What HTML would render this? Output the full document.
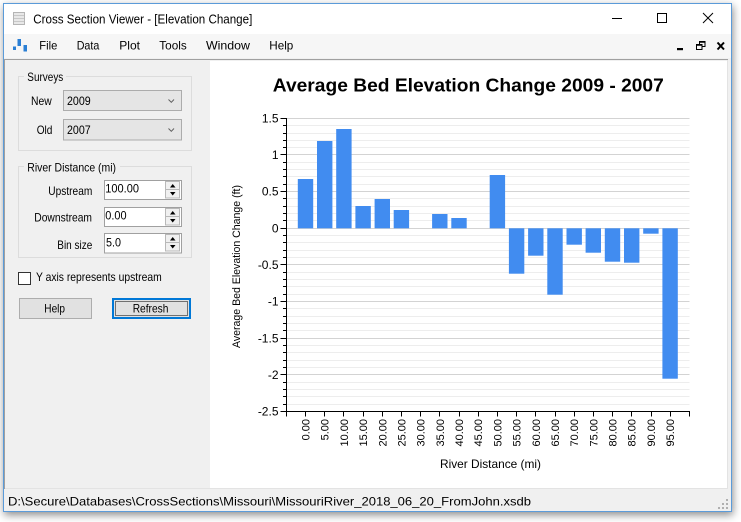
<!DOCTYPE html>
<html><head><meta charset="utf-8">
<style>
html,body{margin:0;padding:0;background:#fff;width:741px;height:522px;overflow:hidden;}
#win{position:absolute;left:3px;top:3px;width:727px;height:507px;border:1px solid #5b9bd9;background:#f0f0f0;box-shadow:1px 3px 8px rgba(0,0,0,0.45);}
svg{position:absolute;left:0;top:0;}
text{font-family:"Liberation Sans",Arial,sans-serif;fill:#000;}
</style></head>
<body>
<div id="win"></div>
<svg width="741" height="522" viewBox="0 0 741 522" xmlns="http://www.w3.org/2000/svg">
<!-- title bar -->
<rect x="4" y="4" width="727" height="30" fill="#ffffff"/>
<rect x="13.5" y="12.5" width="11" height="12" fill="#e8e8e8" stroke="#b5b5b5"/>
<line x1="14" y1="15.5" x2="24" y2="15.5" stroke="#c8c8c8"/>
<line x1="14" y1="18.5" x2="24" y2="18.5" stroke="#c8c8c8"/>
<line x1="14" y1="21.5" x2="24" y2="21.5" stroke="#c8c8c8"/>
<text x="33.3" y="23.5" font-size="12.5" textLength="219" lengthAdjust="spacingAndGlyphs">Cross Section Viewer - [Elevation Change]</text>
<line x1="612" y1="18.5" x2="622" y2="18.5" stroke="#000"/>
<rect x="657.5" y="13.5" width="9" height="9" fill="none" stroke="#000"/>
<line x1="703" y1="13" x2="713" y2="23" stroke="#000"/>
<line x1="713" y1="13" x2="703" y2="23" stroke="#000"/>
<!-- menu bar -->
<rect x="4" y="34" width="727" height="24" fill="#f6f6f6"/>
<rect x="13" y="46.5" width="3" height="3.5" fill="#2b7fd4"/>
<rect x="17.5" y="39" width="3.5" height="7" fill="#2b7fd4"/>
<rect x="23.5" y="45" width="3.5" height="6.5" fill="#2b7fd4"/>
<text x="39.3" y="49.5" font-size="12" textLength="18" lengthAdjust="spacingAndGlyphs">File</text>
<text x="76.7" y="49.5" font-size="12" textLength="22.6" lengthAdjust="spacingAndGlyphs">Data</text>
<text x="119.3" y="49.5" font-size="12" textLength="20.7" lengthAdjust="spacingAndGlyphs">Plot</text>
<text x="159.3" y="49.5" font-size="12" textLength="27.4" lengthAdjust="spacingAndGlyphs">Tools</text>
<text x="206" y="49.5" font-size="12" textLength="44" lengthAdjust="spacingAndGlyphs">Window</text>
<text x="269.3" y="49.5" font-size="12" textLength="24" lengthAdjust="spacingAndGlyphs">Help</text>
<rect x="677" y="48" width="6" height="2.2" fill="#000"/>
<rect x="699.5" y="41.5" width="5.5" height="5" fill="none" stroke="#000"/>
<line x1="699" y1="42" x2="705.5" y2="42" stroke="#000" stroke-width="1.5"/>
<rect x="696.5" y="44.5" width="5.5" height="5" fill="#f6f6f6" stroke="#000"/>
<line x1="696" y1="45" x2="702.5" y2="45" stroke="#000" stroke-width="1.5"/>
<line x1="717.5" y1="42.5" x2="724" y2="49.5" stroke="#000" stroke-width="2"/>
<line x1="724" y1="42.5" x2="717.5" y2="49.5" stroke="#000" stroke-width="2"/>
<!-- MDI client -->
<rect x="6" y="61" width="204" height="428" fill="#f0f0f0"/>
<rect x="210" y="61" width="517" height="428" fill="#ffffff"/>
<line x1="5" y1="59.5" x2="728" y2="59.5" stroke="#a0a0a0"/>
<line x1="4.5" y1="59" x2="4.5" y2="489" stroke="#a0a0a0"/>
<line x1="727.5" y1="60" x2="727.5" y2="489" stroke="#e3e3e3"/>
<line x1="5" y1="488.5" x2="728" y2="488.5" stroke="#e3e3e3"/>
<!-- status bar -->
<rect x="4" y="489.5" width="727" height="21" fill="#f0f0f0"/>
<text x="8" y="505.5" font-size="12" textLength="523" lengthAdjust="spacingAndGlyphs">D:\Secure\Databases\CrossSections\Missouri\MissouriRiver_2018_06_20_FromJohn.xsdb</text>
<g fill="#b0b0b0">
<rect x="726" y="499" width="2" height="2"/>
<rect x="722" y="503" width="2" height="2"/><rect x="726" y="503" width="2" height="2"/>
<rect x="718" y="507" width="2" height="2"/><rect x="722" y="507" width="2" height="2"/><rect x="726" y="507" width="2" height="2"/>
</g>
<!-- Left panel -->
<rect x="18.5" y="76.5" width="173" height="74" fill="none" stroke="#dcdcdc"/>
<rect x="24" y="70" width="42" height="12" fill="#f0f0f0"/>
<text x="27.3" y="81" font-size="12" textLength="36" lengthAdjust="spacingAndGlyphs">Surveys</text>
<text x="31" y="105" font-size="12" textLength="20.7" lengthAdjust="spacingAndGlyphs">New</text>
<rect x="63.5" y="90.5" width="118" height="20" fill="#e5e5e5" stroke="#acacac"/>
<text x="67" y="105" font-size="12" textLength="23.7" lengthAdjust="spacingAndGlyphs">2009</text>
<polyline points="168.5,99.5 171.3,102.3 174,99.5" fill="none" stroke="#606060"/>
<text x="36.7" y="134" font-size="12" textLength="15.7" lengthAdjust="spacingAndGlyphs">Old</text>
<rect x="63.5" y="119.5" width="118" height="20.5" fill="#e5e5e5" stroke="#acacac"/>
<text x="67" y="134" font-size="12" textLength="23.7" lengthAdjust="spacingAndGlyphs">2007</text>
<polyline points="168.5,128.5 171.3,131.3 174,128.5" fill="none" stroke="#606060"/>

<rect x="18.5" y="166.5" width="173" height="91" fill="none" stroke="#dcdcdc"/>
<rect x="24" y="160" width="96" height="12" fill="#f0f0f0"/>
<text x="27.3" y="171.5" font-size="12" textLength="88.7" lengthAdjust="spacingAndGlyphs">River Distance (mi)</text>

<text x="48.3" y="195" font-size="12" textLength="44" lengthAdjust="spacingAndGlyphs">Upstream</text>
<rect x="104.5" y="180.5" width="77" height="19" fill="#fff" stroke="#a0a0a0"/>
<text x="105.3" y="192.7" font-size="12" textLength="33.7" lengthAdjust="spacingAndGlyphs">100.00</text>
<rect x="165.5" y="181.5" width="14" height="8" fill="#f0f0f0" stroke="#b8b8b8"/>
<rect x="165.5" y="189.5" width="14" height="8.5" fill="#f0f0f0" stroke="#b8b8b8"/>
<polygon points="170,187.5 175.5,187.5 172.7,184" fill="#000"/>
<polygon points="170,192 175.5,192 172.7,195.5" fill="#000"/>

<text x="34.3" y="221.7" font-size="12" textLength="57.7" lengthAdjust="spacingAndGlyphs">Downstream</text>
<rect x="104.5" y="207.5" width="77" height="19" fill="#fff" stroke="#a0a0a0"/>
<text x="105.3" y="219.3" font-size="12" textLength="21.3" lengthAdjust="spacingAndGlyphs">0.00</text>
<rect x="165.5" y="208.5" width="14" height="8" fill="#f0f0f0" stroke="#b8b8b8"/>
<rect x="165.5" y="216.5" width="14" height="8.5" fill="#f0f0f0" stroke="#b8b8b8"/>
<polygon points="170,214.5 175.5,214.5 172.7,211" fill="#000"/>
<polygon points="170,219 175.5,219 172.7,222.5" fill="#000"/>

<text x="57.3" y="249" font-size="12" textLength="35" lengthAdjust="spacingAndGlyphs">Bin size</text>
<rect x="104.5" y="233.5" width="77" height="19.5" fill="#fff" stroke="#a0a0a0"/>
<text x="106" y="246.7" font-size="12" textLength="15" lengthAdjust="spacingAndGlyphs">5.0</text>
<rect x="165.5" y="234.5" width="14" height="8" fill="#f0f0f0" stroke="#b8b8b8"/>
<rect x="165.5" y="242.5" width="14" height="8.5" fill="#f0f0f0" stroke="#b8b8b8"/>
<polygon points="170,240.5 175.5,240.5 172.7,237" fill="#000"/>
<polygon points="170,245 175.5,245 172.7,248.5" fill="#000"/>

<rect x="18.5" y="272.5" width="12" height="12" fill="#fff" stroke="#333"/>
<text x="36" y="281" font-size="12" textLength="125.7" lengthAdjust="spacingAndGlyphs">Y axis represents upstream</text>

<rect x="19.5" y="298.5" width="72" height="20" fill="#e1e1e1" stroke="#adadad"/>
<text x="44.3" y="312.7" font-size="12" textLength="20.7" lengthAdjust="spacingAndGlyphs">Help</text>
<rect x="113" y="299" width="77" height="19" fill="#e1e1e1" stroke="#0078d7" stroke-width="2"/>
<rect x="115.5" y="301.5" width="72" height="14" fill="none" stroke="#000" stroke-dasharray="1,1"/>
<text x="132.7" y="312.7" font-size="12" textLength="35.7" lengthAdjust="spacingAndGlyphs">Refresh</text>

<!-- Chart -->
<text x="468.3" y="91.7" font-size="18" font-weight="bold" text-anchor="middle" textLength="391" lengthAdjust="spacingAndGlyphs">Average Bed Elevation Change 2009 - 2007</text>

<!-- minor gridlines -->
<g stroke="#ededed" stroke-width="1">
<line x1="287" x2="689.5" y1="125.5" y2="125.5"/><line x1="287" x2="689.5" y1="133.5" y2="133.5"/><line x1="287" x2="689.5" y1="140.5" y2="140.5"/><line x1="287" x2="689.5" y1="147.5" y2="147.5"/>
<line x1="287" x2="689.5" y1="162.5" y2="162.5"/><line x1="287" x2="689.5" y1="169.5" y2="169.5"/><line x1="287" x2="689.5" y1="176.5" y2="176.5"/><line x1="287" x2="689.5" y1="184.5" y2="184.5"/>
<line x1="287" x2="689.5" y1="198.5" y2="198.5"/><line x1="287" x2="689.5" y1="206.5" y2="206.5"/><line x1="287" x2="689.5" y1="213.5" y2="213.5"/><line x1="287" x2="689.5" y1="220.5" y2="220.5"/>
<line x1="287" x2="689.5" y1="235.5" y2="235.5"/><line x1="287" x2="689.5" y1="242.5" y2="242.5"/><line x1="287" x2="689.5" y1="250.5" y2="250.5"/><line x1="287" x2="689.5" y1="257.5" y2="257.5"/>
<line x1="287" x2="689.5" y1="272.5" y2="272.5"/><line x1="287" x2="689.5" y1="279.5" y2="279.5"/><line x1="287" x2="689.5" y1="286.5" y2="286.5"/><line x1="287" x2="689.5" y1="294.5" y2="294.5"/>
<line x1="287" x2="689.5" y1="308.5" y2="308.5"/><line x1="287" x2="689.5" y1="316.5" y2="316.5"/><line x1="287" x2="689.5" y1="323.5" y2="323.5"/><line x1="287" x2="689.5" y1="330.5" y2="330.5"/>
<line x1="287" x2="689.5" y1="345.5" y2="345.5"/><line x1="287" x2="689.5" y1="352.5" y2="352.5"/><line x1="287" x2="689.5" y1="360.5" y2="360.5"/><line x1="287" x2="689.5" y1="367.5" y2="367.5"/>
<line x1="287" x2="689.5" y1="382.5" y2="382.5"/><line x1="287" x2="689.5" y1="389.5" y2="389.5"/><line x1="287" x2="689.5" y1="396.5" y2="396.5"/><line x1="287" x2="689.5" y1="404.5" y2="404.5"/>
</g>
<!-- major gridlines -->
<g stroke="#d3d3d3" stroke-width="1">
<line x1="287" x2="689.5" y1="118.5" y2="118.5"/>
<line x1="287" x2="689.5" y1="154.5" y2="154.5"/>
<line x1="287" x2="689.5" y1="191.5" y2="191.5"/>
<line x1="287" x2="689.5" y1="228.5" y2="228.5"/>
<line x1="287" x2="689.5" y1="264.5" y2="264.5"/>
<line x1="287" x2="689.5" y1="301.5" y2="301.5"/>
<line x1="287" x2="689.5" y1="338.5" y2="338.5"/>
<line x1="287" x2="689.5" y1="374.5" y2="374.5"/>
</g>

<!-- bars -->
<g fill="#418CF0">
<rect x="297.8" y="179" width="15.4" height="49.3"/>
<rect x="317" y="141" width="15.4" height="87.3"/>
<rect x="336.2" y="129" width="15.4" height="99.3"/>
<rect x="355.4" y="206" width="15.4" height="22.3"/>
<rect x="374.6" y="199" width="15.4" height="29.3"/>
<rect x="393.7" y="210" width="15.4" height="18.3"/>
<rect x="432.1" y="214" width="15.4" height="14.3"/>
<rect x="451.3" y="218" width="15.4" height="10.3"/>
<rect x="489.7" y="175" width="15.4" height="53.3"/>
<rect x="508.9" y="228.3" width="15.4" height="45.4"/>
<rect x="528.1" y="228.3" width="15.4" height="27.4"/>
<rect x="547.3" y="228.3" width="15.4" height="66.4"/>
<rect x="566.5" y="228.3" width="15.4" height="16.4"/>
<rect x="585.6" y="228.3" width="15.4" height="24.4"/>
<rect x="604.8" y="228.3" width="15.4" height="33.4"/>
<rect x="624" y="228.3" width="15.4" height="34.4"/>
<rect x="643.2" y="228.3" width="15.4" height="5.4"/>
<rect x="662.4" y="228.3" width="15.4" height="150.4"/>
</g>

<!-- axes -->
<line x1="286.5" y1="118" x2="286.5" y2="412" stroke="#000"/>
<line x1="286" y1="411.5" x2="690" y2="411.5" stroke="#000"/>
<!-- y ticks -->
<g stroke="#000">
<line x1="280.5" x2="286.5" y1="118.5" y2="118.5"/><line x1="280.5" x2="286.5" y1="154.5" y2="154.5"/><line x1="280.5" x2="286.5" y1="191.5" y2="191.5"/><line x1="280.5" x2="286.5" y1="228.5" y2="228.5"/><line x1="280.5" x2="286.5" y1="264.5" y2="264.5"/><line x1="280.5" x2="286.5" y1="301.5" y2="301.5"/><line x1="280.5" x2="286.5" y1="338.5" y2="338.5"/><line x1="280.5" x2="286.5" y1="374.5" y2="374.5"/><line x1="280.5" x2="286.5" y1="411.5" y2="411.5"/>
<line x1="283" x2="286.5" y1="125.5" y2="125.5"/><line x1="283" x2="286.5" y1="133.5" y2="133.5"/><line x1="283" x2="286.5" y1="140.5" y2="140.5"/><line x1="283" x2="286.5" y1="147.5" y2="147.5"/>
<line x1="283" x2="286.5" y1="162.5" y2="162.5"/><line x1="283" x2="286.5" y1="169.5" y2="169.5"/><line x1="283" x2="286.5" y1="176.5" y2="176.5"/><line x1="283" x2="286.5" y1="184.5" y2="184.5"/>
<line x1="283" x2="286.5" y1="198.5" y2="198.5"/><line x1="283" x2="286.5" y1="206.5" y2="206.5"/><line x1="283" x2="286.5" y1="213.5" y2="213.5"/><line x1="283" x2="286.5" y1="220.5" y2="220.5"/>
<line x1="283" x2="286.5" y1="235.5" y2="235.5"/><line x1="283" x2="286.5" y1="242.5" y2="242.5"/><line x1="283" x2="286.5" y1="250.5" y2="250.5"/><line x1="283" x2="286.5" y1="257.5" y2="257.5"/>
<line x1="283" x2="286.5" y1="272.5" y2="272.5"/><line x1="283" x2="286.5" y1="279.5" y2="279.5"/><line x1="283" x2="286.5" y1="286.5" y2="286.5"/><line x1="283" x2="286.5" y1="294.5" y2="294.5"/>
<line x1="283" x2="286.5" y1="308.5" y2="308.5"/><line x1="283" x2="286.5" y1="316.5" y2="316.5"/><line x1="283" x2="286.5" y1="323.5" y2="323.5"/><line x1="283" x2="286.5" y1="330.5" y2="330.5"/>
<line x1="283" x2="286.5" y1="345.5" y2="345.5"/><line x1="283" x2="286.5" y1="352.5" y2="352.5"/><line x1="283" x2="286.5" y1="360.5" y2="360.5"/><line x1="283" x2="286.5" y1="367.5" y2="367.5"/>
<line x1="283" x2="286.5" y1="382.5" y2="382.5"/><line x1="283" x2="286.5" y1="389.5" y2="389.5"/><line x1="283" x2="286.5" y1="396.5" y2="396.5"/><line x1="283" x2="286.5" y1="404.5" y2="404.5"/>
</g>
<!-- x ticks -->
<g stroke="#000">
<line x1="286.5" x2="286.5" y1="411" y2="416.5"/><line x1="305.5" x2="305.5" y1="411" y2="416.5"/><line x1="324.5" x2="324.5" y1="411" y2="416.5"/><line x1="343.5" x2="343.5" y1="411" y2="416.5"/><line x1="363.5" x2="363.5" y1="411" y2="416.5"/><line x1="382.5" x2="382.5" y1="411" y2="416.5"/><line x1="401.5" x2="401.5" y1="411" y2="416.5"/><line x1="420.5" x2="420.5" y1="411" y2="416.5"/><line x1="439.5" x2="439.5" y1="411" y2="416.5"/><line x1="459.5" x2="459.5" y1="411" y2="416.5"/><line x1="478.5" x2="478.5" y1="411" y2="416.5"/><line x1="497.5" x2="497.5" y1="411" y2="416.5"/><line x1="516.5" x2="516.5" y1="411" y2="416.5"/><line x1="535.5" x2="535.5" y1="411" y2="416.5"/><line x1="555.5" x2="555.5" y1="411" y2="416.5"/><line x1="574.5" x2="574.5" y1="411" y2="416.5"/><line x1="593.5" x2="593.5" y1="411" y2="416.5"/><line x1="612.5" x2="612.5" y1="411" y2="416.5"/><line x1="631.5" x2="631.5" y1="411" y2="416.5"/><line x1="651.5" x2="651.5" y1="411" y2="416.5"/><line x1="670.5" x2="670.5" y1="411" y2="416.5"/><line x1="689.5" x2="689.5" y1="411" y2="416.5"/>
</g>
<!-- y labels -->
<g font-size="12" text-anchor="end">
<text x="278.5" y="122.6">1.5</text>
<text x="278.5" y="158.8">1</text>
<text x="278.5" y="195.6">0.5</text>
<text x="278.5" y="232.4">0</text>
<text x="278.5" y="268.8">-0.5</text>
<text x="278.5" y="305.6">-1</text>
<text x="278.5" y="342.6">-1.5</text>
<text x="278.5" y="378.8">-2</text>
<text x="278.5" y="415.6">-2.5</text>
</g>
<!-- x labels -->
<g font-size="11" text-anchor="end">
<text transform="translate(309.5,419) rotate(-90)">0.00</text>
<text transform="translate(328.7,419) rotate(-90)">5.00</text>
<text transform="translate(347.9,419) rotate(-90)">10.00</text>
<text transform="translate(367.1,419) rotate(-90)">15.00</text>
<text transform="translate(386.3,419) rotate(-90)">20.00</text>
<text transform="translate(405.4,419) rotate(-90)">25.00</text>
<text transform="translate(424.6,419) rotate(-90)">30.00</text>
<text transform="translate(443.8,419) rotate(-90)">35.00</text>
<text transform="translate(463,419) rotate(-90)">40.00</text>
<text transform="translate(482.2,419) rotate(-90)">45.00</text>
<text transform="translate(501.4,419) rotate(-90)">50.00</text>
<text transform="translate(520.6,419) rotate(-90)">55.00</text>
<text transform="translate(539.8,419) rotate(-90)">60.00</text>
<text transform="translate(559,419) rotate(-90)">65.00</text>
<text transform="translate(578.2,419) rotate(-90)">70.00</text>
<text transform="translate(597.3,419) rotate(-90)">75.00</text>
<text transform="translate(616.5,419) rotate(-90)">80.00</text>
<text transform="translate(635.7,419) rotate(-90)">85.00</text>
<text transform="translate(654.9,419) rotate(-90)">90.00</text>
<text transform="translate(674.1,419) rotate(-90)">95.00</text>
</g>
<!-- axis titles -->
<text transform="translate(240,266.5) rotate(-90)" font-size="11" text-anchor="middle" textLength="163" lengthAdjust="spacingAndGlyphs">Average Bed Elevation Change (ft)</text>
<text x="440" y="468" font-size="12" textLength="101" lengthAdjust="spacingAndGlyphs">River Distance (mi)</text>
</svg>
</body></html>
